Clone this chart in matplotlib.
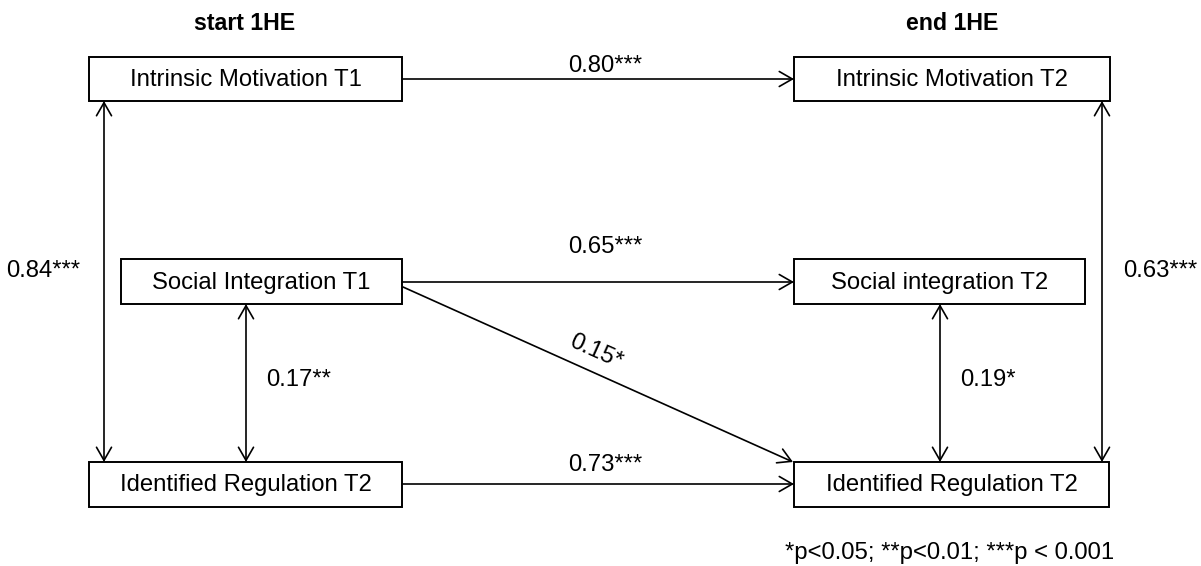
import matplotlib.pyplot as plt
from matplotlib.patches import Rectangle, FancyArrowPatch
import numpy as np

# Variables (boxes) of the path model
nodes = ["Intrinsic Motivation T1", "Social Integration T1", "Identified Regulation T2",
         "Intrinsic Motivation T2", "Social integration T2", "Identified Regulation T2"]
wave_titles = ["start 1HE", "end 1HE"]

# Directed paths: (from node index, to node index), coefficient, significance
path_edges = [(0, 3), (1, 4), (1, 5), (2, 5)]
path_coefs = [0.80, 0.65, 0.15, 0.73]
path_stars = ["***", "***", "*", "***"]

# Covariances (double headed): (node a, node b), coefficient, significance
cov_edges = [(0, 2), (1, 2), (4, 5), (3, 5)]
cov_coefs = [0.84, 0.17, 0.19, 0.63]
cov_stars = ["***", "**", "*", "***"]

footnote = "*p<0.05; **p<0.01; ***p < 0.001"

# ---- layout (pixel space of a 1201 x 566 canvas) ----
boxes = [(89, 57, 402, 101), (121, 259, 402, 304), (89, 462, 402, 507),
         (794, 57, 1110, 101), (794, 259, 1085, 304), (794, 462, 1109, 507)]
title_x = [245, 952]
# start/end points of the directed paths
path_xy = [((402, 79), (794, 79)), ((402, 282), (794, 282)),
           ((403, 287), (793, 462)), ((402, 484), (794, 484))]
path_label_xy = [(605, 66), (605, 247), (596, 352), (605, 465)]
cov_x = [104, 246, 940, 1102]
cov_label_xy = [(43, 271, "center"), (266, 380, "left"), (960, 380, "left"), (1160, 271, "center")]

plt.rcParams['font.family'] = ['Liberation Sans', 'DejaVu Sans']
fs = 17.2
lw = 1.2

fig = plt.figure(figsize=(12.01, 5.66), dpi=100)
ax = fig.add_axes([0, 0, 1, 1])
ax.set_xlim(0, 1201)
ax.set_ylim(566, 0)
ax.axis("off")

# boxes
for name, (x0, y0, x1, y1) in zip(nodes, boxes):
    ax.add_patch(Rectangle((x0, y0), x1 - x0, y1 - y0, fill=False, edgecolor="black", lw=lw + 0.2))
    ax.text((x0 + x1) / 2, (y0 + y1) / 2 + 1, name, ha="center", va="center", fontsize=fs)

for t, x in zip(wave_titles, title_x):
    ax.text(x, 23, t, ha="center", va="center", fontsize=fs - 0.5, fontweight="bold")

arrow_kw = dict(mutation_scale=20, color="black", lw=lw, shrinkA=0, shrinkB=0)

# directed paths
for (p0, p1), c, s, (lx, ly) in zip(path_xy, path_coefs, path_stars, path_label_xy):
    ax.add_patch(FancyArrowPatch(p0, p1, arrowstyle="->,head_length=0.47,head_width=0.27", **arrow_kw))
    dx, dy = p1[0] - p0[0], p1[1] - p0[1]
    rot = -np.degrees(np.arctan2(dy, dx))
    ax.text(lx, ly, f"{c:.2f}{s}", ha="center", va="center", fontsize=fs,
            rotation=rot, rotation_mode="anchor")

# covariances
for (a, b), c, s, x, (lx, ly, ha) in zip(cov_edges, cov_coefs, cov_stars, cov_x, cov_label_xy):
    y_top = boxes[a][3]
    y_bot = boxes[b][1]
    ax.add_patch(FancyArrowPatch((x, y_top), (x, y_bot),
                                 arrowstyle="<->,head_length=0.47,head_width=0.27", **arrow_kw))
    ax.text(lx, ly, f"{c:.2f}{s}", ha=ha, va="center", fontsize=fs)

ax.text(785, 553, footnote, ha="left", va="center", fontsize=fs)

fig.savefig("out.png", dpi=100)
